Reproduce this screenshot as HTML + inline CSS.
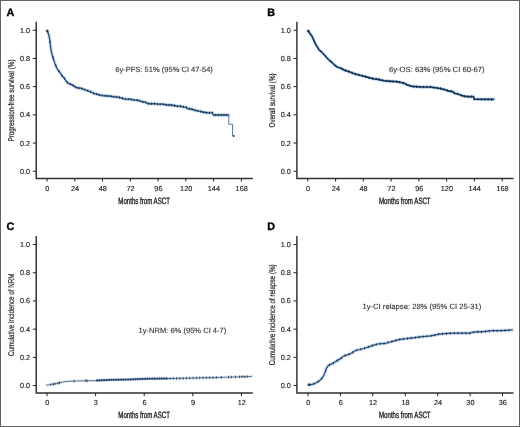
<!DOCTYPE html>
<html><head><meta charset="utf-8"><style>
html,body{margin:0;padding:0;background:#fff;}
svg{display:block;}
text{filter:grayscale(1);text-rendering:geometricPrecision;}
text{font-family:"Liberation Sans", sans-serif;}
</style></head><body>
<svg width="520" height="427" viewBox="0 0 520 427">
<rect x="0" y="0" width="520" height="427" fill="#fff"/>
<path d="M36.2,21.8 V178.4 H252.8" stroke="#303030" stroke-width="1.45" fill="none"/>
<path d="M32.800000000000004,30.25 H36.2" stroke="#222" stroke-width="1"/>
<text x="30.2" y="32.70" text-anchor="end" font-size="7.3" fill="#222" stroke="#222" stroke-width="0.14">1.0</text>
<path d="M32.800000000000004,58.45 H36.2" stroke="#222" stroke-width="1"/>
<text x="30.2" y="60.90" text-anchor="end" font-size="7.3" fill="#222" stroke="#222" stroke-width="0.14">0.8</text>
<path d="M32.800000000000004,86.65 H36.2" stroke="#222" stroke-width="1"/>
<text x="30.2" y="89.10" text-anchor="end" font-size="7.3" fill="#222" stroke="#222" stroke-width="0.14">0.6</text>
<path d="M32.800000000000004,114.85 H36.2" stroke="#222" stroke-width="1"/>
<text x="30.2" y="117.30" text-anchor="end" font-size="7.3" fill="#222" stroke="#222" stroke-width="0.14">0.4</text>
<path d="M32.800000000000004,143.05 H36.2" stroke="#222" stroke-width="1"/>
<text x="30.2" y="145.50" text-anchor="end" font-size="7.3" fill="#222" stroke="#222" stroke-width="0.14">0.2</text>
<path d="M32.800000000000004,171.25 H36.2" stroke="#222" stroke-width="1"/>
<text x="30.2" y="173.70" text-anchor="end" font-size="7.3" fill="#222" stroke="#222" stroke-width="0.14">0.0</text>
<path d="M47.0,178.4 V181.6" stroke="#222" stroke-width="1"/>
<text x="47.3" y="190.8" text-anchor="middle" font-size="7.3" fill="#222" stroke="#222" stroke-width="0.14">0</text>
<path d="M74.8,178.4 V181.6" stroke="#222" stroke-width="1"/>
<text x="75.1" y="190.8" text-anchor="middle" font-size="7.3" fill="#222" stroke="#222" stroke-width="0.14">24</text>
<path d="M102.5,178.4 V181.6" stroke="#222" stroke-width="1"/>
<text x="102.8" y="190.8" text-anchor="middle" font-size="7.3" fill="#222" stroke="#222" stroke-width="0.14">48</text>
<path d="M130.3,178.4 V181.6" stroke="#222" stroke-width="1"/>
<text x="130.6" y="190.8" text-anchor="middle" font-size="7.3" fill="#222" stroke="#222" stroke-width="0.14">72</text>
<path d="M158.1,178.4 V181.6" stroke="#222" stroke-width="1"/>
<text x="158.4" y="190.8" text-anchor="middle" font-size="7.3" fill="#222" stroke="#222" stroke-width="0.14">96</text>
<path d="M185.8,178.4 V181.6" stroke="#222" stroke-width="1"/>
<text x="186.2" y="190.8" text-anchor="middle" font-size="7.3" fill="#222" stroke="#222" stroke-width="0.14">120</text>
<path d="M213.6,178.4 V181.6" stroke="#222" stroke-width="1"/>
<text x="213.9" y="190.8" text-anchor="middle" font-size="7.3" fill="#222" stroke="#222" stroke-width="0.14">144</text>
<path d="M241.4,178.4 V181.6" stroke="#222" stroke-width="1"/>
<text x="241.7" y="190.8" text-anchor="middle" font-size="7.3" fill="#222" stroke="#222" stroke-width="0.14">168</text>
<text x="118.3" y="203.8" font-size="9.2" fill="#1a1a1a" textLength="51.6" lengthAdjust="spacingAndGlyphs" stroke="#1a1a1a" stroke-width="0.35">Months from ASCT</text>
<text transform="translate(14.3,100.5) rotate(-90)" x="-41.1" y="0" font-size="8.4" fill="#222" textLength="82.2" lengthAdjust="spacingAndGlyphs" stroke="#222" stroke-width="0.2">Progression-free survival (%)</text>
<text x="6.6" y="15.9" font-size="10.8" font-weight="bold" fill="#000" stroke="#000" stroke-width="0.35">A</text>
<text x="115.2" y="71.8" font-size="7.6" fill="#333" stroke="#333" stroke-width="0.12" textLength="97.7" lengthAdjust="spacingAndGlyphs">6y-PFS: 51% (95% CI 47-54)</text>
<path d="M296.9,21.8 V178.4 H513.5" stroke="#303030" stroke-width="1.45" fill="none"/>
<path d="M293.5,30.25 H296.9" stroke="#222" stroke-width="1"/>
<text x="290.9" y="32.70" text-anchor="end" font-size="7.3" fill="#222" stroke="#222" stroke-width="0.14">1.0</text>
<path d="M293.5,58.45 H296.9" stroke="#222" stroke-width="1"/>
<text x="290.9" y="60.90" text-anchor="end" font-size="7.3" fill="#222" stroke="#222" stroke-width="0.14">0.8</text>
<path d="M293.5,86.65 H296.9" stroke="#222" stroke-width="1"/>
<text x="290.9" y="89.10" text-anchor="end" font-size="7.3" fill="#222" stroke="#222" stroke-width="0.14">0.6</text>
<path d="M293.5,114.85 H296.9" stroke="#222" stroke-width="1"/>
<text x="290.9" y="117.30" text-anchor="end" font-size="7.3" fill="#222" stroke="#222" stroke-width="0.14">0.4</text>
<path d="M293.5,143.05 H296.9" stroke="#222" stroke-width="1"/>
<text x="290.9" y="145.50" text-anchor="end" font-size="7.3" fill="#222" stroke="#222" stroke-width="0.14">0.2</text>
<path d="M293.5,171.25 H296.9" stroke="#222" stroke-width="1"/>
<text x="290.9" y="173.70" text-anchor="end" font-size="7.3" fill="#222" stroke="#222" stroke-width="0.14">0.0</text>
<path d="M307.8,178.4 V181.6" stroke="#222" stroke-width="1"/>
<text x="308.1" y="190.8" text-anchor="middle" font-size="7.3" fill="#222" stroke="#222" stroke-width="0.14">0</text>
<path d="M335.6,178.4 V181.6" stroke="#222" stroke-width="1"/>
<text x="335.9" y="190.8" text-anchor="middle" font-size="7.3" fill="#222" stroke="#222" stroke-width="0.14">24</text>
<path d="M363.3,178.4 V181.6" stroke="#222" stroke-width="1"/>
<text x="363.6" y="190.8" text-anchor="middle" font-size="7.3" fill="#222" stroke="#222" stroke-width="0.14">48</text>
<path d="M391.1,178.4 V181.6" stroke="#222" stroke-width="1"/>
<text x="391.4" y="190.8" text-anchor="middle" font-size="7.3" fill="#222" stroke="#222" stroke-width="0.14">72</text>
<path d="M418.9,178.4 V181.6" stroke="#222" stroke-width="1"/>
<text x="419.2" y="190.8" text-anchor="middle" font-size="7.3" fill="#222" stroke="#222" stroke-width="0.14">96</text>
<path d="M446.6,178.4 V181.6" stroke="#222" stroke-width="1"/>
<text x="446.9" y="190.8" text-anchor="middle" font-size="7.3" fill="#222" stroke="#222" stroke-width="0.14">120</text>
<path d="M474.4,178.4 V181.6" stroke="#222" stroke-width="1"/>
<text x="474.7" y="190.8" text-anchor="middle" font-size="7.3" fill="#222" stroke="#222" stroke-width="0.14">144</text>
<path d="M502.2,178.4 V181.6" stroke="#222" stroke-width="1"/>
<text x="502.5" y="190.8" text-anchor="middle" font-size="7.3" fill="#222" stroke="#222" stroke-width="0.14">168</text>
<text x="379.0" y="203.8" font-size="9.2" fill="#1a1a1a" textLength="51.6" lengthAdjust="spacingAndGlyphs" stroke="#1a1a1a" stroke-width="0.35">Months from ASCT</text>
<text transform="translate(275.0,100.5) rotate(-90)" x="-27.0" y="0" font-size="8.4" fill="#222" textLength="54" lengthAdjust="spacingAndGlyphs" stroke="#222" stroke-width="0.2">Overall survival (%)</text>
<text x="267.3" y="15.9" font-size="10.8" font-weight="bold" fill="#000" stroke="#000" stroke-width="0.35">B</text>
<text x="388.9" y="71.6" font-size="7.6" fill="#333" stroke="#333" stroke-width="0.12" textLength="95.8" lengthAdjust="spacingAndGlyphs">6y-OS: 63% (95% CI 60-67)</text>
<path d="M36.2,236.10000000000002 V393.00000000000006 H252.8" stroke="#303030" stroke-width="1.45" fill="none"/>
<path d="M32.800000000000004,244.55 H36.2" stroke="#222" stroke-width="1"/>
<text x="30.2" y="247.00" text-anchor="end" font-size="7.3" fill="#222" stroke="#222" stroke-width="0.14">1.0</text>
<path d="M32.800000000000004,272.75 H36.2" stroke="#222" stroke-width="1"/>
<text x="30.2" y="275.20" text-anchor="end" font-size="7.3" fill="#222" stroke="#222" stroke-width="0.14">0.8</text>
<path d="M32.800000000000004,300.95 H36.2" stroke="#222" stroke-width="1"/>
<text x="30.2" y="303.40" text-anchor="end" font-size="7.3" fill="#222" stroke="#222" stroke-width="0.14">0.6</text>
<path d="M32.800000000000004,329.15 H36.2" stroke="#222" stroke-width="1"/>
<text x="30.2" y="331.60" text-anchor="end" font-size="7.3" fill="#222" stroke="#222" stroke-width="0.14">0.4</text>
<path d="M32.800000000000004,357.35 H36.2" stroke="#222" stroke-width="1"/>
<text x="30.2" y="359.80" text-anchor="end" font-size="7.3" fill="#222" stroke="#222" stroke-width="0.14">0.2</text>
<path d="M32.800000000000004,385.55 H36.2" stroke="#222" stroke-width="1"/>
<text x="30.2" y="388.00" text-anchor="end" font-size="7.3" fill="#222" stroke="#222" stroke-width="0.14">0.0</text>
<path d="M47.0,393.00000000000006 V396.20000000000005" stroke="#222" stroke-width="1"/>
<text x="47.3" y="405.1" text-anchor="middle" font-size="7.3" fill="#222" stroke="#222" stroke-width="0.14">0</text>
<path d="M95.6,393.00000000000006 V396.20000000000005" stroke="#222" stroke-width="1"/>
<text x="95.9" y="405.1" text-anchor="middle" font-size="7.3" fill="#222" stroke="#222" stroke-width="0.14">3</text>
<path d="M144.2,393.00000000000006 V396.20000000000005" stroke="#222" stroke-width="1"/>
<text x="144.5" y="405.1" text-anchor="middle" font-size="7.3" fill="#222" stroke="#222" stroke-width="0.14">6</text>
<path d="M192.8,393.00000000000006 V396.20000000000005" stroke="#222" stroke-width="1"/>
<text x="193.1" y="405.1" text-anchor="middle" font-size="7.3" fill="#222" stroke="#222" stroke-width="0.14">9</text>
<path d="M241.4,393.00000000000006 V396.20000000000005" stroke="#222" stroke-width="1"/>
<text x="241.7" y="405.1" text-anchor="middle" font-size="7.3" fill="#222" stroke="#222" stroke-width="0.14">12</text>
<text x="118.3" y="418.1" font-size="9.2" fill="#1a1a1a" textLength="51.6" lengthAdjust="spacingAndGlyphs" stroke="#1a1a1a" stroke-width="0.35">Months from ASCT</text>
<text transform="translate(14.3,314.8) rotate(-90)" x="-41.3" y="0" font-size="8.4" fill="#222" textLength="82.6" lengthAdjust="spacingAndGlyphs" stroke="#222" stroke-width="0.2">Cumulative incidence of NRM</text>
<text x="6.6" y="230.20000000000002" font-size="10.8" font-weight="bold" fill="#000" stroke="#000" stroke-width="0.35">C</text>
<text x="138.5" y="332.7" font-size="7.6" fill="#333" stroke="#333" stroke-width="0.12" textLength="87.8" lengthAdjust="spacingAndGlyphs">1y-NRM: 6% (95% CI 4-7)</text>
<path d="M296.9,236.10000000000002 V393.00000000000006 H513.5" stroke="#303030" stroke-width="1.45" fill="none"/>
<path d="M293.5,244.55 H296.9" stroke="#222" stroke-width="1"/>
<text x="290.9" y="247.00" text-anchor="end" font-size="7.3" fill="#222" stroke="#222" stroke-width="0.14">1.0</text>
<path d="M293.5,272.75 H296.9" stroke="#222" stroke-width="1"/>
<text x="290.9" y="275.20" text-anchor="end" font-size="7.3" fill="#222" stroke="#222" stroke-width="0.14">0.8</text>
<path d="M293.5,300.95 H296.9" stroke="#222" stroke-width="1"/>
<text x="290.9" y="303.40" text-anchor="end" font-size="7.3" fill="#222" stroke="#222" stroke-width="0.14">0.6</text>
<path d="M293.5,329.15 H296.9" stroke="#222" stroke-width="1"/>
<text x="290.9" y="331.60" text-anchor="end" font-size="7.3" fill="#222" stroke="#222" stroke-width="0.14">0.4</text>
<path d="M293.5,357.35 H296.9" stroke="#222" stroke-width="1"/>
<text x="290.9" y="359.80" text-anchor="end" font-size="7.3" fill="#222" stroke="#222" stroke-width="0.14">0.2</text>
<path d="M293.5,385.55 H296.9" stroke="#222" stroke-width="1"/>
<text x="290.9" y="388.00" text-anchor="end" font-size="7.3" fill="#222" stroke="#222" stroke-width="0.14">0.0</text>
<path d="M308.0,393.00000000000006 V396.20000000000005" stroke="#222" stroke-width="1"/>
<text x="308.3" y="405.1" text-anchor="middle" font-size="7.3" fill="#222" stroke="#222" stroke-width="0.14">0</text>
<path d="M340.4,393.00000000000006 V396.20000000000005" stroke="#222" stroke-width="1"/>
<text x="340.7" y="405.1" text-anchor="middle" font-size="7.3" fill="#222" stroke="#222" stroke-width="0.14">6</text>
<path d="M372.8,393.00000000000006 V396.20000000000005" stroke="#222" stroke-width="1"/>
<text x="373.1" y="405.1" text-anchor="middle" font-size="7.3" fill="#222" stroke="#222" stroke-width="0.14">12</text>
<path d="M405.3,393.00000000000006 V396.20000000000005" stroke="#222" stroke-width="1"/>
<text x="405.6" y="405.1" text-anchor="middle" font-size="7.3" fill="#222" stroke="#222" stroke-width="0.14">18</text>
<path d="M437.7,393.00000000000006 V396.20000000000005" stroke="#222" stroke-width="1"/>
<text x="438.0" y="405.1" text-anchor="middle" font-size="7.3" fill="#222" stroke="#222" stroke-width="0.14">24</text>
<path d="M470.1,393.00000000000006 V396.20000000000005" stroke="#222" stroke-width="1"/>
<text x="470.4" y="405.1" text-anchor="middle" font-size="7.3" fill="#222" stroke="#222" stroke-width="0.14">30</text>
<path d="M502.5,393.00000000000006 V396.20000000000005" stroke="#222" stroke-width="1"/>
<text x="502.8" y="405.1" text-anchor="middle" font-size="7.3" fill="#222" stroke="#222" stroke-width="0.14">36</text>
<text x="379.0" y="418.1" font-size="9.2" fill="#1a1a1a" textLength="51.6" lengthAdjust="spacingAndGlyphs" stroke="#1a1a1a" stroke-width="0.35">Months from ASCT</text>
<text transform="translate(275.0,314.8) rotate(-90)" x="-50.5" y="0" font-size="8.4" fill="#222" textLength="101" lengthAdjust="spacingAndGlyphs" stroke="#222" stroke-width="0.2">Cumulative incidence of relapse (%)</text>
<text x="267.3" y="230.20000000000002" font-size="10.8" font-weight="bold" fill="#000" stroke="#000" stroke-width="0.35">D</text>
<text x="362.5" y="308.7" font-size="7.6" fill="#333" stroke="#333" stroke-width="0.12" textLength="118.8" lengthAdjust="spacingAndGlyphs">1y-CI relapse: 28% (95% CI 25-31)</text>
<path d="M47.2,30.8 L48.7,34.7 L49.6,39.0 L50.4,44.9 L50.9,49.1 L51.7,53.3 L53.0,57.5 L54.2,61.4 L55.0,64.0 L56.0,66.0 L57.0,68.5 L58.5,70.8 L60.0,72.5 L61.5,75.0 L63.5,77.5 L64.5,78.5 L66.0,81.0 L68.0,83.0 L70.5,84.2 L73.0,85.4 L75.5,87.1 L78.0,88.0 L80.5,88.2 L83.0,89.0 L85.5,90.0 L88.0,90.8 L90.5,91.8 L93.0,93.0 L95.5,93.8 L98.0,94.5 L100.5,95.2 L103.0,95.6 L105.5,95.8 L108.0,96.0 L110.5,96.2 L113.0,96.8 L115.0,96.8 L118.0,97.2 L121.0,97.8 L124.0,98.8 L127.0,99.2 L130.0,99.2 L133.0,99.8 L136.0,100.1 L139.0,100.5 L141.5,101.5 L143.5,102.0 L145.5,102.2 L147.5,103.5 L150.5,103.8 L153.5,103.6 L156.0,103.9 L158.5,104.2 L162.0,104.1 L163.0,104.2 L167.0,105.0 L170.5,105.0 L174.0,105.5 L177.0,106.2 L180.0,106.2 L183.0,106.8 L186.0,107.3 L188.0,108.8 L191.0,109.0 L194.0,109.8 L197.0,110.8 L199.5,111.2 L202.5,112.0 L205.5,112.5 L208.5,112.8 L212.5,112.8 L213.3,115.0 L228.8,115.0" stroke="#d8e8f6" stroke-width="3.8" fill="none" stroke-linejoin="round" stroke-linecap="round"/>
<path d="M308.2,30.8 L310.0,33.4 L311.7,35.8 L313.1,38.6 L314.2,41.1 L315.6,44.3 L317.4,47.1 L319.1,49.9 L321.6,52.0 L322.0,52.5 L324.5,55.0 L327.0,58.0 L329.5,60.5 L332.0,62.5 L334.5,65.0 L337.0,67.0 L339.5,67.8 L342.0,68.8 L344.0,70.0 L347.0,71.0 L350.0,72.0 L353.0,73.2 L356.0,74.2 L359.0,75.0 L362.0,75.8 L365.0,76.5 L368.0,77.4 L371.0,78.2 L374.0,78.8 L377.0,79.2 L380.0,79.8 L383.0,80.5 L386.0,81.0 L389.0,81.2 L392.0,81.4 L395.0,81.5 L398.0,81.8 L401.0,82.5 L404.0,83.2 L407.0,84.8 L410.0,85.8 L413.0,86.5 L416.0,86.7 L421.0,87.0 L426.0,87.0 L431.0,87.0 L433.5,87.5 L437.0,88.0 L441.0,88.6 L443.0,89.2 L446.0,90.0 L449.0,91.2 L452.0,91.4 L455.0,93.5 L458.0,94.0 L461.0,95.2 L464.0,96.1 L467.5,96.7 L473.6,96.7 L474.1,99.1 L494.2,99.4" stroke="#d8e8f6" stroke-width="3.8" fill="none" stroke-linejoin="round" stroke-linecap="round"/>
<path d="M308.6,384.9 L311.0,384.6 L313.8,383.9 L316.6,382.5 L319.1,381.1 L321.2,379.0 L323.0,376.9 L324.4,374.1 L325.4,371.2 L326.5,368.2 L328.0,365.8 L329.3,365.0 L331.5,364.1 L334.5,362.3 L337.6,360.4 L340.6,358.6 L342.4,356.8 L344.9,355.6 L347.9,354.7 L350.4,353.7 L352.8,352.3 L355.5,350.5 L359.7,349.5 L363.9,348.5 L368.0,347.1 L372.2,345.7 L375.6,344.7 L377.7,344.0 L381.9,343.6 L386.0,343.3 L387.5,342.5 L390.9,341.9 L394.4,340.8 L397.9,339.8 L402.0,339.1 L406.2,338.7 L410.3,338.2 L414.5,337.7 L420.0,336.9 L424.2,336.5 L430.5,335.9 L434.6,335.2 L438.8,334.1 L442.9,333.8 L448.5,333.4 L454.0,333.1 L458.9,333.2 L465.9,333.2 L470.0,333.2 L472.1,332.3 L476.2,331.9 L481.1,331.8 L488.0,331.1 L492.3,330.7 L500.6,330.7 L506.9,330.3 L512.7,329.9" stroke="#d8e8f6" stroke-width="3.8" fill="none" stroke-linejoin="round" stroke-linecap="round"/>
<path d="M46.1,385.2 L50.9,384.5 L54.4,383.9 L58.5,383.1 L62.0,382.4 L64.8,381.6 L68.9,381.3 L74.5,381.0 L80.0,380.9 L96.0,380.6 L112.0,379.8 L130.0,379.4 L146.0,378.8 L182.0,378.3 L216.0,377.5 L250.0,376.5 L252.0,376.3" stroke="#e2eef8" stroke-width="3.0" fill="none" stroke-linejoin="round" stroke-linecap="round"/>
<path d="M47.2,30.8 L48.7,34.7 L49.6,39.0 L50.4,44.9 L50.9,49.1 L51.7,53.3 L53.0,57.5 L54.2,61.4 L55.0,64.0 L56.0,66.0 L57.0,68.5 L58.5,70.8 L60.0,72.5 L61.5,75.0 L63.5,77.5 L64.5,78.5 L66.0,81.0 L68.0,83.0 L70.5,84.2 L73.0,85.4 L75.5,87.1 L78.0,88.0 L80.5,88.2 L83.0,89.0 L85.5,90.0 L88.0,90.8 L90.5,91.8 L93.0,93.0 L95.5,93.8 L98.0,94.5 L100.5,95.2 L103.0,95.6 L105.5,95.8 L108.0,96.0 L110.5,96.2 L113.0,96.8 L115.0,96.8 L118.0,97.2 L121.0,97.8 L124.0,98.8 L127.0,99.2 L130.0,99.2 L133.0,99.8 L136.0,100.1 L139.0,100.5 L141.5,101.5 L143.5,102.0 L145.5,102.2 L147.5,103.5 L150.5,103.8 L153.5,103.6 L156.0,103.9 L158.5,104.2 L162.0,104.1 L163.0,104.2 L167.0,105.0 L170.5,105.0 L174.0,105.5 L177.0,106.2 L180.0,106.2 L183.0,106.8 L186.0,107.3 L188.0,108.8 L191.0,109.0 L194.0,109.8 L197.0,110.8 L199.5,111.2 L202.5,112.0 L205.5,112.5 L208.5,112.8 L212.5,112.8 L213.3,115.0 L228.8,115.0" stroke="#224a74" stroke-width="1.3" fill="none" stroke-linejoin="round"/>
<circle cx="47.3" cy="31" r="1.2" fill="#1a3350"/><circle cx="308.3" cy="30.9" r="1.2" fill="#12304f"/><circle cx="308.8" cy="384.8" r="1.2" fill="#1e3a5a"/>
<path d="M228.8,115.0 L228.8,124.2 L232.6,124.2 L232.6,135.6 L233.8,136.1" stroke="#4a6580" stroke-width="0.9" fill="none"/>
<circle cx="233.6" cy="136" r="1.1" fill="#2a4560"/>
<path d="M308.2,30.8 L310.0,33.4 L311.7,35.8 L313.1,38.6 L314.2,41.1 L315.6,44.3 L317.4,47.1 L319.1,49.9 L321.6,52.0 L322.0,52.5 L324.5,55.0 L327.0,58.0 L329.5,60.5 L332.0,62.5 L334.5,65.0 L337.0,67.0 L339.5,67.8 L342.0,68.8 L344.0,70.0 L347.0,71.0 L350.0,72.0 L353.0,73.2 L356.0,74.2 L359.0,75.0 L362.0,75.8 L365.0,76.5 L368.0,77.4 L371.0,78.2 L374.0,78.8 L377.0,79.2 L380.0,79.8 L383.0,80.5 L386.0,81.0 L389.0,81.2 L392.0,81.4 L395.0,81.5 L398.0,81.8 L401.0,82.5 L404.0,83.2 L407.0,84.8 L410.0,85.8 L413.0,86.5 L416.0,86.7 L421.0,87.0 L426.0,87.0 L431.0,87.0 L433.5,87.5 L437.0,88.0 L441.0,88.6 L443.0,89.2 L446.0,90.0 L449.0,91.2 L452.0,91.4 L455.0,93.5 L458.0,94.0 L461.0,95.2 L464.0,96.1 L467.5,96.7 L473.6,96.7 L474.1,99.1 L494.2,99.4" stroke="#15385e" stroke-width="1.7" fill="none" stroke-linejoin="round"/>
<path d="M46.1,385.2 L50.9,384.5 L54.4,383.9 L58.5,383.1 L62.0,382.4 L64.8,381.6 L68.9,381.3 L74.5,381.0 L80.0,380.9 L96.0,380.6 L112.0,379.8 L130.0,379.4 L146.0,378.8 L182.0,378.3 L216.0,377.5 L250.0,376.5 L252.0,376.3" stroke="#66788c" stroke-width="1.0" fill="none"/>
<path d="M96.0,380.6 L96.0,380.6 L112.0,379.8 L130.0,379.4 L146.0,378.8 L168.0,378.5" stroke="#34587f" stroke-width="1.5" fill="none"/>
<path d="M308.6,384.9 L311.0,384.6 L313.8,383.9 L316.6,382.5 L319.1,381.1 L321.2,379.0 L323.0,376.9 L324.4,374.1 L325.4,371.2 L326.5,368.2 L328.0,365.8 L329.3,365.0 L331.5,364.1 L334.5,362.3 L337.6,360.4 L340.6,358.6 L342.4,356.8 L344.9,355.6 L347.9,354.7 L350.4,353.7 L352.8,352.3 L355.5,350.5 L359.7,349.5 L363.9,348.5 L368.0,347.1 L372.2,345.7 L375.6,344.7 L377.7,344.0 L381.9,343.6 L386.0,343.3 L387.5,342.5 L390.9,341.9 L394.4,340.8 L397.9,339.8 L402.0,339.1 L406.2,338.7 L410.3,338.2 L414.5,337.7 L420.0,336.9 L424.2,336.5 L430.5,335.9 L434.6,335.2 L438.8,334.1 L442.9,333.8 L448.5,333.4 L454.0,333.1 L458.9,333.2 L465.9,333.2 L470.0,333.2 L472.1,332.3 L476.2,331.9 L481.1,331.8 L488.0,331.1 L492.3,330.7 L500.6,330.7 L506.9,330.3 L512.7,329.9" stroke="#2d4e74" stroke-width="1.25" fill="none" stroke-linejoin="round"/>
<path d="M50.0,40.8v2.4M52.9,56.0v2.4M55.8,64.4v2.4M58.7,69.8v2.4M61.6,73.9v2.4M64.5,77.3v2.4M67.4,81.2v2.4M70.3,83.0v2.4M73.2,84.3v2.4M76.1,86.1v2.4M79.0,86.9v2.4M81.9,87.4v2.4M84.8,88.5v2.4M87.7,89.5v2.4M90.6,90.6v2.4M93.5,92.0v2.4M96.4,92.8v2.4M99.3,93.7v2.4M102.2,94.3v2.4M105.1,94.5v2.4M108.0,94.8v2.4M110.9,95.1v2.4M113.8,95.5v2.4M116.7,95.8v2.4M119.6,96.3v2.4M122.5,97.0v2.4M125.4,97.8v2.4M128.3,98.0v2.4M131.2,98.2v2.4M134.1,98.7v2.4M137.0,99.0v2.4M139.9,99.7v2.4M142.8,100.6v2.4M145.7,101.2v2.4M148.6,102.4v2.4M151.5,102.5v2.4M154.4,102.5v2.4M157.3,102.9v2.4M160.2,103.0v2.4M163.1,103.1v2.4M166.0,103.6v2.4M168.9,103.8v2.4M171.8,104.0v2.4M174.7,104.5v2.4M177.6,105.0v2.4M180.5,105.1v2.4M183.4,105.6v2.4M186.3,106.3v2.4M189.2,107.6v2.4M192.1,108.1v2.4M195.0,108.9v2.4M197.9,109.7v2.4M200.8,110.4v2.4M203.7,111.0v2.4M206.6,111.4v2.4M209.5,111.6v2.4M212.4,111.6v2.4M215.3,113.8v2.4M218.2,113.8v2.4M221.1,113.8v2.4M224.0,113.8v2.4M226.9,113.8v2.4" stroke="#18355a" stroke-width="1.0" fill="none"/>
<path d="M50.9,383.2v2.6M53.5,382.8v2.6M55.0,382.5v2.6M58.0,381.9v2.6M59.5,381.6v2.6M74.0,379.7v2.6M85.8,379.5v2.6M87.0,379.5v2.6M97.0,379.2v2.6M99.4,379.1v2.6M101.8,379.0v2.6M104.2,378.9v2.6M106.6,378.8v2.6M109.0,378.6v2.6M111.4,378.5v2.6M113.8,378.5v2.6M116.2,378.4v2.6M118.6,378.4v2.6M121.0,378.3v2.6M123.4,378.2v2.6M125.8,378.2v2.6M128.2,378.1v2.6M130.6,378.1v2.6M133.0,378.0v2.6M135.4,377.9v2.6M137.8,377.8v2.6M140.2,377.7v2.6M142.6,377.6v2.6M145.0,377.5v2.6M147.4,377.5v2.6M149.8,377.4v2.6M152.2,377.4v2.6M154.6,377.4v2.6M157.0,377.3v2.6M159.4,377.3v2.6M161.8,377.3v2.6M164.2,377.2v2.6M166.6,377.2v2.6M170.0,377.2v2.6M173.3,377.1v2.6M176.6,377.1v2.6M179.9,377.0v2.6M183.2,377.0v2.6M186.5,376.9v2.6M189.8,376.8v2.6M193.1,376.7v2.6M196.4,376.7v2.6M199.7,376.6v2.6M203.0,376.5v2.6M206.3,376.4v2.6M209.6,376.4v2.6M212.9,376.3v2.6M216.4,376.2v2.6M221.3,376.0v2.6M228.5,375.8v2.6M231.4,375.7v2.6M235.4,375.6v2.6M239.4,375.5v2.6M241.9,375.4v2.6M244.3,375.4v2.6M247.1,375.3v2.6" stroke="#2a4466" stroke-width="0.9" fill="none"/>
<path d="M310.0,383.6v2.3M313.9,382.7v2.3M317.8,380.7v2.3M321.7,377.3v2.3M325.6,369.5v2.3M329.5,363.8v2.3M333.4,361.8v2.3M337.3,359.4v2.3M341.2,356.9v2.3M345.1,354.4v2.3M349.0,353.1v2.3M352.9,351.1v2.3M356.8,349.0v2.3M360.7,348.1v2.3M364.6,347.1v2.3M368.5,345.8v2.3M372.4,344.5v2.3M376.3,343.3v2.3M380.2,342.6v2.3M384.1,342.3v2.3M388.0,341.3v2.3M391.9,340.4v2.3M395.8,339.2v2.3M399.7,338.3v2.3M403.6,337.8v2.3M407.5,337.4v2.3M411.4,336.9v2.3M415.3,336.4v2.3M419.2,335.9v2.3M423.1,335.5v2.3M427.0,335.1v2.3M430.9,334.7v2.3M434.8,334.0v2.3M438.7,333.0v2.3M442.6,332.7v2.3M446.5,332.4v2.3M450.4,332.1v2.3M454.3,332.0v2.3M458.2,332.0v2.3M462.1,332.1v2.3M466.0,332.1v2.3M469.9,332.1v2.3M473.8,331.0v2.3M477.7,330.7v2.3M481.6,330.6v2.3M485.5,330.2v2.3M489.4,329.8v2.3M493.3,329.6v2.3M497.2,329.6v2.3M501.1,329.5v2.3M505.0,329.3v2.3M508.9,329.0v2.3" stroke="#1e3a5a" stroke-width="1.0" fill="none"/>
<path d="M342.0,67.5v2.4M345.4,69.3v2.4M348.8,70.4v2.4M352.2,71.7v2.4M355.6,72.9v2.4M359.0,73.8v2.4M362.4,74.6v2.4M365.8,75.5v2.4M369.2,76.5v2.4M372.6,77.3v2.4M376.0,77.9v2.4M379.4,78.4v2.4M382.8,79.2v2.4M386.2,79.8v2.4M389.6,80.1v2.4M393.0,80.2v2.4M396.4,80.4v2.4M399.8,81.0v2.4M403.2,81.8v2.4M406.6,83.4v2.4M410.0,84.5v2.4M413.4,85.3v2.4M416.8,85.5v2.4M420.2,85.8v2.4M423.6,85.8v2.4M427.0,85.8v2.4M430.4,85.8v2.4M433.8,86.3v2.4M437.2,86.8v2.4M440.6,87.3v2.4M444.0,88.3v2.4M447.4,89.4v2.4M450.8,90.1v2.4M454.2,91.7v2.4M457.6,92.7v2.4M461.0,94.0v2.4M464.4,95.0v2.4M467.8,95.5v2.4M471.2,95.5v2.4M474.6,97.9v2.4M478.0,98.0v2.4M481.4,98.0v2.4M484.8,98.1v2.4M488.2,98.1v2.4M491.6,98.2v2.4" stroke="#0f2a48" stroke-width="1.0" fill="none"/>
<rect x="0.5" y="0.5" width="519" height="426" fill="none" stroke="#636363" stroke-width="1"/>
</svg>
</body></html>
